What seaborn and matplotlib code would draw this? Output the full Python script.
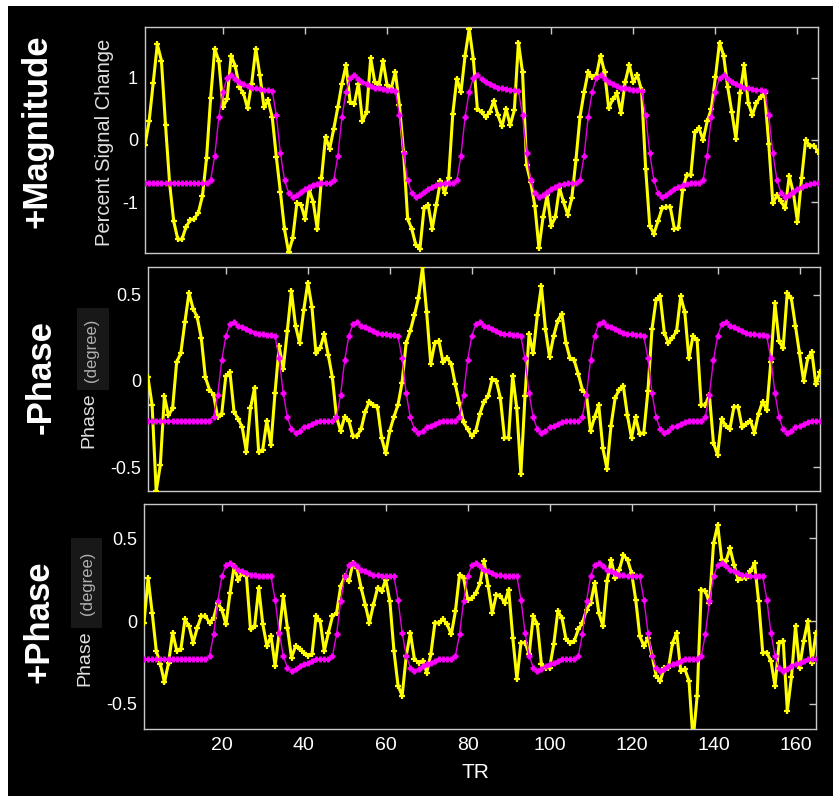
import matplotlib
matplotlib.use("Agg")
import matplotlib.pyplot as plt
import seaborn as sns
from matplotlib.patches import Rectangle

sns.set_style("dark")
plt.rcParams['font.family'] = ['Liberation Sans', 'DejaVu Sans']
plt.rcParams['axes.unicode_minus'] = False

# ---------------------------------------------------------------- data
TR = list(range(1, 166))

# +Magnitude: measured percent signal change and block-design model
mag_signal = [
    -0.08, 0.30, 0.92, 1.54, 1.28, 0.24, -0.70, -1.31, -1.60, -1.60,
    -1.40, -1.29, -1.27, -1.17, -0.90, -0.29, 0.68, 1.47, 1.27, 0.53,
    0.66, 1.36, 1.19, 0.85, 0.75, 0.51, 0.91, 1.47, 1.04, 0.53,
    0.64, 0.37, -0.27, -0.84, -1.44, -1.81, -1.58, -1.02, -1.04, -1.27,
    -0.80, -1.00, -1.44, -0.62, 0.05, -0.14, 0.18, 0.53, 0.91, 1.21,
    0.61, 0.58, 0.91, 0.30, 0.45, 1.32, 0.93, 0.88, 1.28, 0.88,
    0.83, 1.10, 0.56, -0.19, -1.27, -1.43, -1.69, -1.75, -1.10, -1.05,
    -1.43, -1.05, -0.66, -0.85, -0.61, 0.42, 0.99, 0.77, 1.36, 1.79,
    1.31, 0.50, 0.45, 0.37, 0.45, 0.63, 0.40, 0.22, 0.50, 0.24,
    0.48, 1.57, 1.09, -0.41, -0.68, -1.06, -1.74, -1.24, -0.89, -1.38,
    -1.24, -0.77, -1.00, -1.20, -0.94, -0.33, 0.37, 0.77, 1.10, 1.01,
    1.04, 1.36, 1.09, 0.51, 0.66, 0.75, 0.44, 0.93, 1.21, 0.94,
    1.04, 0.80, -0.46, -1.38, -1.51, -1.31, -1.10, -1.08, -1.08, -1.43,
    -1.42, -0.81, -0.56, -0.57, 0.13, 0.19, 0.00, 0.30, 0.50, 1.01,
    1.57, 1.36, 0.85, 0.45, 0.02, 0.75, 1.20, 0.60, 0.40, 0.60,
    0.70, 0.75, -0.06, -1.02, -0.89, -0.99, -1.10, -0.58, -0.85, -1.32,
    -0.62, 0.00, -0.09, -0.09, -0.19,
]
mag_model = [
    -0.70, -0.70, -0.70, -0.70, -0.70, -0.70, -0.70, -0.70,
    -0.70, -0.70, -0.70, -0.70, -0.70, -0.70, -0.70, -0.70,
    -0.65, -0.25, 0.37, 0.78, 1.00, 1.04, 0.99, 0.94, 0.91, 0.87, 0.84, 0.83, 0.82, 0.81, 0.81,
    0.79, 0.40, -0.21, -0.65, -0.85, -0.92, -0.88, -0.83, -0.79, -0.76, -0.73, -0.71, -0.70, -0.70, -0.70,
    -0.65, -0.25, 0.37, 0.78, 1.00, 1.04, 0.99, 0.94, 0.91, 0.87, 0.84, 0.83, 0.82, 0.81, 0.81,
    0.79, 0.40, -0.21, -0.65, -0.85, -0.92, -0.88, -0.83, -0.79, -0.76, -0.73, -0.71, -0.70, -0.70, -0.70,
    -0.65, -0.25, 0.37, 0.78, 1.00, 1.04, 0.99, 0.94, 0.91, 0.87, 0.84, 0.83, 0.82, 0.81, 0.81,
    0.79, 0.40, -0.21, -0.65, -0.85, -0.92, -0.88, -0.83, -0.79, -0.76, -0.73, -0.71, -0.70, -0.70, -0.70,
    -0.65, -0.25, 0.37, 0.78, 1.00, 1.04, 0.99, 0.94, 0.91, 0.87, 0.84, 0.83, 0.82, 0.81, 0.81,
    0.79, 0.40, -0.21, -0.65, -0.85, -0.92, -0.88, -0.83, -0.79, -0.76, -0.73, -0.71, -0.70, -0.70, -0.70,
    -0.65, -0.25, 0.37, 0.78, 1.00, 1.04, 0.99, 0.94, 0.91, 0.87, 0.84, 0.83, 0.82, 0.81, 0.81,
    0.79, 0.40, -0.21, -0.65, -0.85, -0.92, -0.88, -0.83, -0.79, -0.76, -0.73, -0.71, -0.70, -0.70,
]

# -Phase: measured phase and model
neg_phase_signal = [
    0.02, -0.14, -0.64, -0.49, -0.09, -0.20, -0.16, 0.11, 0.16, 0.34,
    0.51, 0.42, 0.37, 0.25, 0.02, -0.05, -0.08, -0.21, -0.19, 0.03,
    0.05, -0.18, -0.22, -0.27, -0.41, -0.16, -0.04, -0.41, -0.40, -0.23,
    -0.37, -0.07, 0.20, 0.07, 0.29, 0.52, 0.32, 0.22, 0.41, 0.57,
    0.43, 0.16, 0.19, 0.27, 0.15, 0.02, -0.21, -0.29, -0.21, -0.23,
    -0.32, -0.32, -0.28, -0.18, -0.12, -0.14, -0.15, -0.33, -0.42, -0.29,
    -0.21, -0.14, -0.01, 0.22, 0.29, 0.38, 0.48, 0.66, 0.40, 0.10,
    0.22, 0.23, 0.11, 0.13, 0.10, -0.02, -0.13, -0.24, -0.28, -0.32,
    -0.29, -0.19, -0.12, -0.09, 0.01, 0.00, -0.10, -0.33, -0.33, 0.03,
    -0.16, -0.54, -0.09, 0.27, 0.16, 0.38, 0.55, 0.30, 0.14, 0.26,
    0.35, 0.39, 0.22, 0.13, 0.12, 0.04, -0.05, -0.08, -0.29, -0.21,
    -0.14, -0.39, -0.51, -0.26, -0.10, -0.05, -0.03, -0.20, -0.33, -0.21,
    -0.31, -0.30, -0.06, 0.30, 0.47, 0.49, 0.28, 0.22, 0.25, 0.29,
    0.49, 0.40, 0.13, 0.26, 0.24, -0.14, -0.14, -0.08, -0.36, -0.43,
    -0.22, -0.26, -0.28, -0.15, -0.15, -0.27, -0.25, -0.23, -0.30, -0.19,
    -0.12, -0.17, 0.11, 0.45, 0.23, 0.19, 0.51, 0.48, 0.32, 0.16,
    0.00, 0.13, 0.17, -0.02, 0.05,
]
neg_phase_model = [
    -0.23, -0.23, -0.23, -0.23, -0.23, -0.23, -0.23, -0.23,
    -0.23, -0.23, -0.23, -0.23, -0.23, -0.23, -0.23, -0.23,
    -0.21, -0.08, 0.12, 0.26, 0.33, 0.34, 0.32, 0.31, 0.30, 0.29, 0.28, 0.27, 0.27, 0.265, 0.265,
    0.26, 0.13, -0.07, -0.21, -0.28, -0.30, -0.29, -0.27, -0.26, -0.25, -0.24, -0.23, -0.23, -0.23, -0.23,
    -0.21, -0.08, 0.12, 0.26, 0.33, 0.34, 0.32, 0.31, 0.30, 0.29, 0.28, 0.27, 0.27, 0.265, 0.265,
    0.26, 0.13, -0.07, -0.21, -0.28, -0.30, -0.29, -0.27, -0.26, -0.25, -0.24, -0.23, -0.23, -0.23, -0.23,
    -0.21, -0.08, 0.12, 0.26, 0.33, 0.34, 0.32, 0.31, 0.30, 0.29, 0.28, 0.27, 0.27, 0.265, 0.265,
    0.26, 0.13, -0.07, -0.21, -0.28, -0.30, -0.29, -0.27, -0.26, -0.25, -0.24, -0.23, -0.23, -0.23, -0.23,
    -0.21, -0.08, 0.12, 0.26, 0.33, 0.34, 0.32, 0.31, 0.30, 0.29, 0.28, 0.27, 0.27, 0.265, 0.265,
    0.26, 0.13, -0.07, -0.21, -0.28, -0.30, -0.29, -0.27, -0.26, -0.25, -0.24, -0.23, -0.23, -0.23, -0.23,
    -0.21, -0.08, 0.12, 0.26, 0.33, 0.34, 0.32, 0.31, 0.30, 0.29, 0.28, 0.27, 0.27, 0.265, 0.265,
    0.26, 0.13, -0.07, -0.21, -0.28, -0.30, -0.29, -0.27, -0.26, -0.25, -0.24, -0.23, -0.23, -0.23,
]

# +Phase: measured phase and model
pos_phase_signal = [
    -0.01, 0.26, 0.05, -0.18, -0.26, -0.37, -0.25, -0.07, -0.18, -0.17,
    0.01, -0.03, -0.13, -0.04, 0.03, 0.03, -0.01, 0.02, 0.11, 0.07,
    -0.02, 0.17, 0.33, 0.25, 0.29, 0.27, -0.05, -0.03, 0.20, -0.02,
    -0.15, -0.09, -0.27, -0.07, 0.15, -0.04, -0.22, -0.15, -0.17, -0.19,
    -0.21, -0.20, 0.03, 0.00, -0.18, -0.07, 0.03, 0.05, 0.21, 0.27,
    0.24, 0.35, 0.32, 0.20, 0.10, -0.01, 0.10, 0.20, 0.18, 0.25,
    0.12, -0.18, -0.39, -0.45, -0.21, -0.07, -0.23, -0.25, -0.24, -0.31,
    -0.20, -0.01, -0.01, 0.01, -0.02, -0.08, 0.06, 0.28, 0.26, 0.13,
    0.14, 0.17, 0.23, 0.36, 0.21, 0.05, 0.16, 0.15, 0.11, 0.19,
    -0.10, -0.35, -0.13, -0.13, -0.20, 0.03, -0.02, -0.26, -0.28, -0.28,
    -0.14, 0.06, 0.02, -0.11, -0.13, -0.12, -0.05, -0.01, 0.07, 0.11,
    0.23, 0.05, -0.03, 0.24, 0.37, 0.26, 0.31, 0.40, 0.37, 0.29,
    0.13, -0.09, -0.15, -0.10, -0.21, -0.33, -0.36, -0.28, -0.28, -0.13,
    -0.07, -0.30, -0.29, -0.36, -0.72, -0.45, 0.19, 0.18, 0.11, 0.47,
    0.58, 0.37, 0.36, 0.44, 0.34, 0.25, 0.26, 0.26, 0.30, 0.35,
    0.12, -0.19, -0.19, -0.24, -0.39, -0.13, -0.12, -0.54, -0.34, -0.03,
    -0.28, -0.12, 0.00, -0.25, -0.07,
]
pos_phase_model = [
    -0.23, -0.23, -0.23, -0.23, -0.23, -0.23, -0.23, -0.23,
    -0.23, -0.23, -0.23, -0.23, -0.23, -0.23, -0.23, -0.23,
    -0.21, -0.08, 0.12, 0.27, 0.34, 0.35, 0.33, 0.31, 0.30, 0.29, 0.28, 0.28, 0.27, 0.27, 0.27,
    0.27, 0.13, -0.07, -0.21, -0.28, -0.30, -0.29, -0.27, -0.26, -0.25, -0.24, -0.23, -0.23, -0.23, -0.23,
    -0.21, -0.08, 0.12, 0.27, 0.34, 0.35, 0.33, 0.31, 0.30, 0.29, 0.28, 0.28, 0.27, 0.27, 0.27,
    0.27, 0.13, -0.07, -0.21, -0.28, -0.30, -0.29, -0.27, -0.26, -0.25, -0.24, -0.23, -0.23, -0.23, -0.23,
    -0.21, -0.08, 0.12, 0.27, 0.34, 0.35, 0.33, 0.31, 0.30, 0.29, 0.28, 0.28, 0.27, 0.27, 0.27,
    0.27, 0.13, -0.07, -0.21, -0.28, -0.30, -0.29, -0.27, -0.26, -0.25, -0.24, -0.23, -0.23, -0.23, -0.23,
    -0.21, -0.08, 0.12, 0.27, 0.34, 0.35, 0.33, 0.31, 0.30, 0.29, 0.28, 0.28, 0.27, 0.27, 0.27,
    0.27, 0.13, -0.07, -0.21, -0.28, -0.30, -0.29, -0.27, -0.26, -0.25, -0.24, -0.23, -0.23, -0.23, -0.23,
    -0.21, -0.08, 0.12, 0.27, 0.34, 0.35, 0.33, 0.31, 0.30, 0.29, 0.28, 0.28, 0.27, 0.27, 0.27,
    0.27, 0.13, -0.07, -0.21, -0.28, -0.30, -0.29, -0.27, -0.26, -0.25, -0.24, -0.23, -0.23, -0.23,
]

x_ticks = [20, 40, 60, 80, 100, 120, 140, 160]
mag_yticks = [-1, 0, 1]
phase_yticks = [-0.5, 0, 0.5]

# ---------------------------------------------------------------- figure
W, H = 833, 796
fig = plt.figure(figsize=(W / 100, H / 100), dpi=100, facecolor="white")
fig.patches.append(Rectangle((8 / W, 0), 1 - 8 / W, 1 - 6 / H,
                             transform=fig.transFigure, facecolor="black",
                             edgecolor="none", zorder=-10))


def px_axes(left, top, right, bottom):
    return fig.add_axes([left / W, 1 - bottom / H, (right - left) / W, (bottom - top) / H])


def px_text(x, y, s, **kw):
    fig.text(x / W, 1 - y / H, s, rotation=90, ha="center", va="center", **kw)


def px_box(left, top, right, bottom, color):
    fig.patches.append(Rectangle((left / W, 1 - bottom / H), (right - left) / W,
                                 (bottom - top) / H, transform=fig.transFigure,
                                 facecolor=color, edgecolor="none", zorder=-5))


panels = [
    dict(box=(145, 27, 818, 253), sig=mag_signal, mod=mag_model,
         ylim=(-1.82, 1.82), yticks=mag_yticks, ylabels=["-1", "0", "1"]),
    dict(box=(148, 267, 820, 491), sig=neg_phase_signal, mod=neg_phase_model,
         ylim=(-0.639, 0.661), yticks=phase_yticks, ylabels=["-0.5", "0", "0.5"]),
    dict(box=(144, 504, 816, 729), sig=pos_phase_signal, mod=pos_phase_model,
         ylim=(-0.651, 0.707), yticks=phase_yticks, ylabels=["-0.5", "0", "0.5"]),
]

spine_col = "#c8c8c8"
for i, p in enumerate(panels):
    ax = px_axes(*p["box"])
    ax.set_facecolor("black")
    sns.lineplot(x=TR, y=p["sig"], ax=ax, color="#ffff00", linewidth=2.2,
                 marker="+", markersize=5, markeredgewidth=1.6,
                 markeredgecolor="#ffff00", estimator=None, zorder=3)
    sns.lineplot(x=TR, y=p["mod"], ax=ax, color="#e000e0", linewidth=1.0,
                 marker="+", markersize=5, markeredgewidth=2.0,
                 markeredgecolor="#ff00ff", estimator=None, zorder=4)
    ax.set_xlim(1, 165)
    ax.set_ylim(*p["ylim"])
    ax.set_xticks(x_ticks)
    ax.set_yticks(p["yticks"])
    ax.set_yticklabels(p["ylabels"])
    ax.grid(False)
    for s in ax.spines.values():
        s.set_visible(True)
        s.set_color(spine_col)
        s.set_linewidth(1.0)
    ax.tick_params(axis="both", direction="in", top=True, right=True,
                   length=5, width=1, color=spine_col, labelcolor="white")
    ax.tick_params(axis="y", labelsize=13, pad=5)
    ax.tick_params(axis="x", labelsize=14, pad=6)
    ax.set_xlabel("")
    ax.set_ylabel("")
    if i < 2:
        ax.tick_params(axis="x", labelbottom=False)

# axis titles
fig.text(475 / W, 1 - 772 / H, "TR", ha="center", va="center",
         color="white", fontsize=15)
px_text(104, 142, "Percent Signal Change", color="#e0e0e0", fontsize=14.5)

px_box(77, 308, 109, 390, "#181818")
px_text(89, 420, "Phase", color="#e0e0e0", fontsize=14)
px_text(92, 350, "(degree)", color="#b0b0b0", fontsize=12)

px_box(71, 538, 102, 628, "#181818")
px_text(85, 658, "Phase", color="#e0e0e0", fontsize=14)
px_text(87, 583, "(degree)", color="#b0b0b0", fontsize=12)

# row titles
px_text(37, 131, "+Magnitude", color="white", fontsize=25, fontweight="bold")
px_text(41, 377, "-Phase", color="white", fontsize=25, fontweight="bold")
px_text(39, 622, "+Phase", color="white", fontsize=25, fontweight="bold")

fig.savefig("out.png", dpi=100, facecolor=fig.get_facecolor())
